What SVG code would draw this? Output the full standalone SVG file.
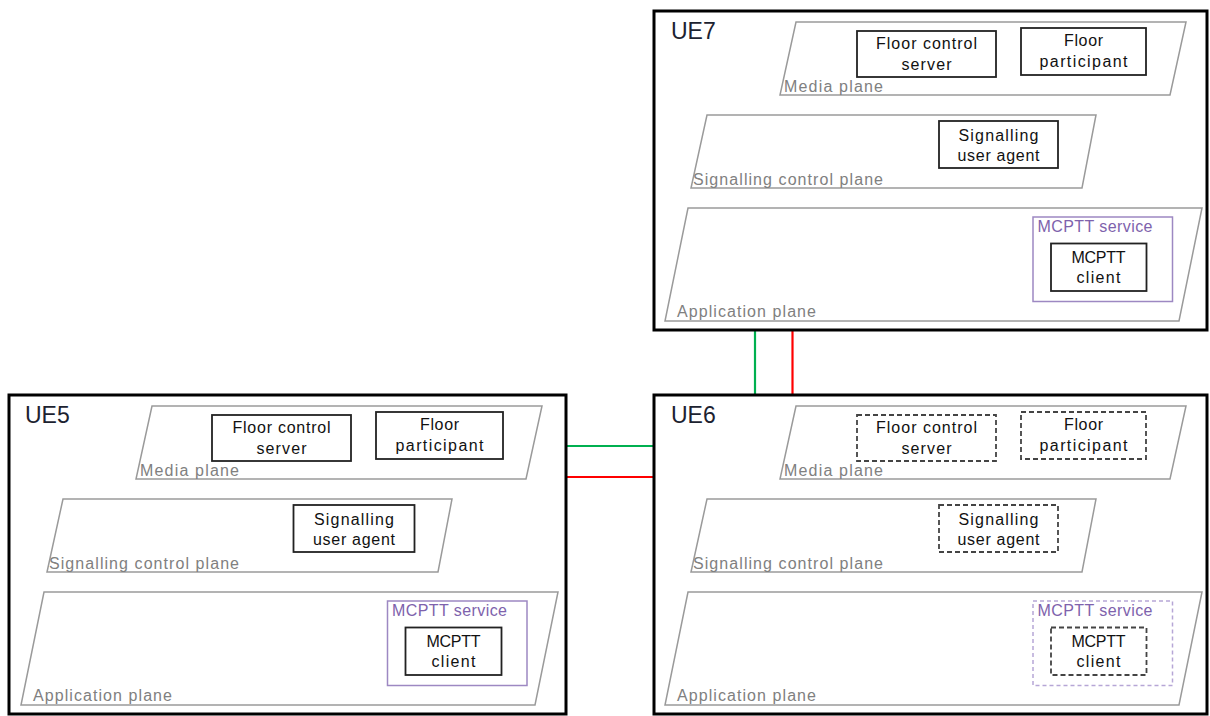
<svg xmlns="http://www.w3.org/2000/svg" width="1210" height="716" viewBox="0 0 1210 716">
  <style>
    .ue { fill: #fff; stroke: #000; stroke-width: 3; }
    .ue-label { font-family: "Liberation Sans", Arial, sans-serif; font-size: 23px; fill: #1c2230; }
    .plane { fill: none; stroke: #9a9a9a; stroke-width: 1.5; }
    .plane-label { font-family: "Liberation Sans", Arial, sans-serif; font-size: 16px; fill: #808080; }
    .box { fill: #fff; stroke: #222; stroke-width: 1.8; }
    .box.dashed { stroke: #444; stroke-dasharray: 5 3; }
    .svc { fill: none; stroke: #9d88c2; stroke-width: 1.5; }
    .svc.dashed { stroke: #b6a6d6; stroke-dasharray: 4 3; }
    .svc-label { font-family: "Liberation Sans", Arial, sans-serif; font-size: 16px; fill: #7e62ac; }
    .txt { font-family: "Liberation Sans", Arial, sans-serif; font-size: 16px; fill: #111; text-anchor: middle; }
    .link { fill: none; stroke-width: 2.2; }
    .green { stroke: #00b050; }
    .red { stroke: #ff0000; }
  </style>

  <!-- connectors between the UEs -->
  <g id="connectors">
    <line class="link green" x1="755" y1="330" x2="755" y2="395"/>
    <line class="link red" x1="792.5" y1="330" x2="792.5" y2="395"/>
    <line class="link green" x1="566" y1="446" x2="654" y2="446"/>
    <line class="link red" x1="566" y1="477" x2="654" y2="477"/>
  </g>

  <!-- UE7 -->
  <g id="ue7">
    <rect class="ue" x="654" y="11" width="553" height="319"/>
    <text class="ue-label" x="671" y="39">UE7</text>
    <polygon class="plane" points="796,22 1186,22 1170,95 780,95"/>
    <text class="plane-label" x="784" y="92" textLength="99" lengthAdjust="spacing">Media plane</text>
    <rect class="box" x="857" y="31" width="139" height="46"/>
    <text class="txt" x="926.5" y="48.5" textLength="101" lengthAdjust="spacing">Floor control</text>
    <text class="txt" x="926.5" y="70" textLength="50" lengthAdjust="spacing">server</text>
    <rect class="box" x="1021" y="28" width="125" height="47"/>
    <text class="txt" x="1083.5" y="45.5" textLength="39" lengthAdjust="spacing">Floor</text>
    <text class="txt" x="1083.5" y="67" textLength="88" lengthAdjust="spacing">participant</text>
    <polygon class="plane" points="707,115 1096,115 1082,188 691,188"/>
    <text class="plane-label" x="693" y="185" textLength="190" lengthAdjust="spacing">Signalling control plane</text>
    <rect class="box" x="939" y="121" width="119" height="47"/>
    <text class="txt" x="998.5" y="140.5" textLength="80" lengthAdjust="spacing">Signalling</text>
    <text class="txt" x="998.5" y="161" textLength="82" lengthAdjust="spacing">user agent</text>
    <polygon class="plane" points="688,208 1202,208 1179,321 665,321"/>
    <text class="plane-label" x="677" y="317" textLength="139" lengthAdjust="spacing">Application plane</text>
    <rect class="svc" x="1033" y="217" width="139.5" height="84.5"/>
    <text class="svc-label" x="1037.5" y="232" textLength="115" lengthAdjust="spacing">MCPTT service</text>
    <rect class="box" x="1051" y="243.5" width="95.5" height="47.5"/>
    <text class="txt" x="1098.5" y="262.5" textLength="54" lengthAdjust="spacing">MCPTT</text>
    <text class="txt" x="1098.5" y="283" textLength="44" lengthAdjust="spacing">client</text>
  </g>

  <!-- UE6 (same layout as UE7, dashed functional entities) -->
  <g id="ue6" transform="translate(0,384)">
    <rect class="ue" x="654" y="11" width="553" height="319"/>
    <text class="ue-label" x="671" y="39">UE6</text>
    <polygon class="plane" points="796,22 1186,22 1170,95 780,95"/>
    <text class="plane-label" x="784" y="92" textLength="99" lengthAdjust="spacing">Media plane</text>
    <rect class="box dashed" x="857" y="31" width="139" height="46"/>
    <text class="txt" x="926.5" y="48.5" textLength="101" lengthAdjust="spacing">Floor control</text>
    <text class="txt" x="926.5" y="70" textLength="50" lengthAdjust="spacing">server</text>
    <rect class="box dashed" x="1021" y="28" width="125" height="47"/>
    <text class="txt" x="1083.5" y="45.5" textLength="39" lengthAdjust="spacing">Floor</text>
    <text class="txt" x="1083.5" y="67" textLength="88" lengthAdjust="spacing">participant</text>
    <polygon class="plane" points="707,115 1096,115 1082,188 691,188"/>
    <text class="plane-label" x="693" y="185" textLength="190" lengthAdjust="spacing">Signalling control plane</text>
    <rect class="box dashed" x="939" y="121" width="119" height="47"/>
    <text class="txt" x="998.5" y="140.5" textLength="80" lengthAdjust="spacing">Signalling</text>
    <text class="txt" x="998.5" y="161" textLength="82" lengthAdjust="spacing">user agent</text>
    <polygon class="plane" points="688,208 1202,208 1179,321 665,321"/>
    <text class="plane-label" x="677" y="317" textLength="139" lengthAdjust="spacing">Application plane</text>
    <rect class="svc dashed" x="1033" y="217" width="139.5" height="84.5"/>
    <text class="svc-label" x="1037.5" y="232" textLength="115" lengthAdjust="spacing">MCPTT service</text>
    <rect class="box dashed" x="1051" y="243.5" width="95.5" height="47.5"/>
    <text class="txt" x="1098.5" y="262.5" textLength="54" lengthAdjust="spacing">MCPTT</text>
    <text class="txt" x="1098.5" y="283" textLength="44" lengthAdjust="spacing">client</text>
  </g>

  <!-- UE5 -->
  <g id="ue5">
    <rect class="ue" x="9" y="395" width="557" height="319"/>
    <g transform="translate(-644,384)">
      <text class="ue-label" x="669" y="39">UE5</text>
      <polygon class="plane" points="796,22 1186,22 1170,95 780,95"/>
      <text class="plane-label" x="784" y="92" textLength="99" lengthAdjust="spacing">Media plane</text>
      <rect class="box" x="856" y="31" width="139" height="46"/>
      <text class="txt" x="925.5" y="48.5" textLength="98" lengthAdjust="spacing">Floor control</text>
      <text class="txt" x="925.5" y="70" textLength="50" lengthAdjust="spacing">server</text>
      <rect class="box" x="1020" y="28" width="127" height="47"/>
      <text class="txt" x="1083.5" y="45.5" textLength="39" lengthAdjust="spacing">Floor</text>
      <text class="txt" x="1083.5" y="67" textLength="88" lengthAdjust="spacing">participant</text>
      <polygon class="plane" points="707,115 1096,115 1082,188 691,188"/>
      <text class="plane-label" x="693" y="185" textLength="190" lengthAdjust="spacing">Signalling control plane</text>
      <rect class="box" x="937.5" y="121" width="121" height="47"/>
      <text class="txt" x="998" y="140.5" textLength="80" lengthAdjust="spacing">Signalling</text>
      <text class="txt" x="998" y="161" textLength="82" lengthAdjust="spacing">user agent</text>
      <polygon class="plane" points="688,208 1202,208 1179,321 665,321"/>
      <text class="plane-label" x="677" y="317" textLength="139" lengthAdjust="spacing">Application plane</text>
      <rect class="svc" x="1031.5" y="217" width="139.5" height="84.5"/>
      <text class="svc-label" x="1036" y="232" textLength="115" lengthAdjust="spacing">MCPTT service</text>
      <rect class="box" x="1049.5" y="243.5" width="96" height="47.5"/>
      <text class="txt" x="1097.5" y="262.5" textLength="54" lengthAdjust="spacing">MCPTT</text>
      <text class="txt" x="1097.5" y="283" textLength="44" lengthAdjust="spacing">client</text>
    </g>
  </g>
</svg>
